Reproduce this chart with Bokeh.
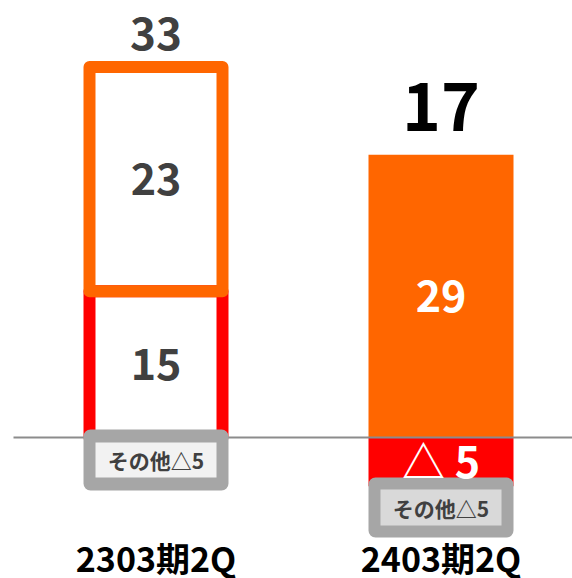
from bokeh.plotting import figure
from bokeh.models import Range1d
from bokeh.core.properties import value
from bokeh.embed import file_html
from bokeh.resources import INLINE

# ---- data ----
categories = ["2303期2Q", "2403期2Q"]
base_values = [15, -5]          # red segment
upper_values = [23, 29]         # orange segment
totals = [33, 17]
base_labels = ["15", "△ 5"]
upper_labels = ["23", "29"]
other_labels = ["その他△5", "その他△5"]

# ---- layout constants ----
PX = 9.75            # pixels per unit
XPX = 285.0          # pixels per category step
W, H = 572, 578
ZERO_PX = 437        # pixel row of value 0
LEFT_PX = 155.5      # pixel column of first category

ORANGE = "#FF6600"
RED = "#FF0000"
GRAY = "#A6A6A6"
DARK = "#404040"
FONT = "Noto Sans CJK JP"

def py(px):  # pixel distance -> data units (y)
    return px / PX

xs = list(range(len(categories)))
x_start = -LEFT_PX / XPX
y_top = ZERO_PX / PX

p = figure(width=W, height=H, output_backend="svg", toolbar_location=None,
           x_range=Range1d(x_start, x_start + W / XPX),
           y_range=Range1d(y_top - H / PX, y_top),
           x_axis_location=None, y_axis_location=None, min_border=0)
p.grid.visible = False
p.outline_line_color = None
p.background_fill_color = "white"

red_bottom = [0 for v in base_values]
red_top = [v for v in base_values]
org_bottom = [max(v, 0) for v in base_values]
org_top = [b + u for b, u in zip(org_bottom, upper_values)]

# first bar: outlined
p.vbar(x=[xs[0]], bottom=[red_bottom[0]], top=[red_top[0]], width=133 / XPX,
       fill_color=None, line_color=RED, line_width=12, line_join="round")
p.vbar(x=[xs[0]], bottom=[org_bottom[0]], top=[org_top[0]], width=133 / XPX,
       fill_color=None, line_color=ORANGE, line_width=12, line_join="round")
# second bar: filled
p.vbar(x=[xs[1]], bottom=[org_bottom[1]], top=[org_top[1]], width=145 / XPX,
       fill_color=ORANGE, line_color=None)
p.vbar(x=[xs[1]], bottom=[red_bottom[1]], top=[red_top[1]], width=145 / XPX,
       fill_color=RED, line_color=None)

# zero line
p.segment(x0=[-0.5], y0=[0], x1=[xs[-1] + 0.5], y1=[0], line_color="#8C8C8C", line_width=2)

# "other" boxes
outer_top = [py(8), py(-40)]
outer_bot = [py(-53), py(-100)]
inner_top = [py(-5), py(-52)]
inner_bot = [py(-40), py(-88)]
inner_fill = ["#F2F2F2", "#D9D9D9"]
p.vbar(x=xs, bottom=outer_bot, top=outer_top, width=145 / XPX,
       fill_color=GRAY, line_color=None, border_radius=7)
p.vbar(x=xs, bottom=inner_bot, top=inner_top, width=121 / XPX,
       fill_color=inner_fill, line_color=None)
p.text(x=xs, y=[(a + b) / 2 for a, b in zip(inner_top, inner_bot)], text=other_labels,
       text_font=value(FONT), text_font_style="bold", text_font_size="21px",
       text_color=DARK, text_align="center", text_baseline="middle")

# segment labels
p.text(x=xs, y=[(a + b) / 2 for a, b in zip(red_bottom, red_top)], text=base_labels,
       text_font=value(FONT), text_font_style="bold", text_font_size="43px",
       text_color=[DARK, "white"], text_align="center", text_baseline="middle",
       y_offset=[0, -3])
p.text(x=xs, y=[(a + b) / 2 for a, b in zip(org_bottom, org_top)], text=upper_labels,
       text_font=value(FONT), text_font_style="bold", text_font_size="43px",
       text_color=[DARK, "white"], text_align="center", text_baseline="middle")

# totals
p.text(x=xs, y=org_top, text=[str(t) for t in totals],
       text_font=value(FONT), text_font_style="bold",
       text_font_size=["44px", "66px"], text_color=[DARK, "black"],
       text_align="center", text_baseline="middle", y_offset=[-34, -48])

# category labels
p.text(x=xs, y=[py(ZERO_PX - 557)] * len(xs), text=categories,
       text_font=value(FONT), text_font_style="bold", text_font_size="34px",
       text_color="black", text_align="center", text_baseline="middle")

open("out.html", "w").write(file_html(p, INLINE))
